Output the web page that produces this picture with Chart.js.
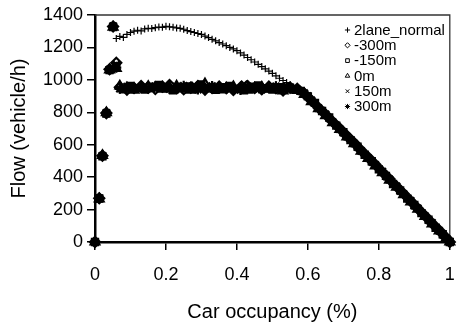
<!DOCTYPE html>
<html>
<head>
<meta charset="utf-8">
<script src="https://cdn.jsdelivr.net/npm/chart.js@4/dist/chart.umd.min.js"></script>
<style>
html,body{margin:0;padding:0;background:#fff;}
#wrap{width:457px;height:324px;}
</style>
</head>
<body>
<div id="wrap"><canvas id="c" width="457" height="324"></canvas></div>
<script>
// ---- Data ----
const seriesNames = ['2lane_normal', '-300m', '-150m', '0m', '150m', '300m'];

const occ2lane = [0, 0.012, 0.021, 0.032, 0.041, 0.051,
  0.06, 0.07, 0.08, 0.09, 0.10, 0.11, 0.12, 0.13, 0.14, 0.15, 0.16, 0.17, 0.18, 0.19,
  0.20, 0.21, 0.22, 0.23, 0.24, 0.25, 0.26, 0.27, 0.28, 0.29, 0.30, 0.31, 0.32, 0.33,
  0.34, 0.35, 0.36, 0.37, 0.38, 0.39, 0.40, 0.41, 0.42, 0.43, 0.44, 0.45, 0.46, 0.47,
  0.48, 0.49, 0.50, 0.51, 0.52, 0.53, 0.54, 0.55, 0.56, 0.57,
  0.59, 0.61, 0.63, 0.65, 0.67, 0.69, 0.71, 0.73, 0.75, 0.77, 0.79, 0.81, 0.83, 0.85,
  0.87, 0.89, 0.91, 0.93, 0.95, 0.97, 0.99, 1.0];
const flow2lane = [0, 268, 530, 793, 1063, 1328,
  1255, 1268, 1262, 1280, 1292, 1300, 1306, 1302, 1314, 1318, 1316, 1322, 1326, 1324,
  1330, 1327, 1325, 1320, 1318, 1312, 1304, 1298, 1292, 1286, 1280, 1270, 1261, 1250,
  1241, 1230, 1221, 1211, 1200, 1191, 1180, 1166, 1153, 1138, 1124, 1110, 1096, 1082,
  1068, 1054, 1040, 1025, 1010, 996, 983, 970, 955, 940,
  916, 874, 829, 785, 744, 699, 654, 609, 565, 519, 475, 430, 386, 340,
  296, 250, 204, 160, 116, 70, 24, 0];

// detectors sampled at odd hundredths (-300m, 0m, 300m)
const occDetectorA = [0, 0.012, 0.021, 0.032, 0.041, 0.051, 0.06,
  0.07, 0.09, 0.11, 0.13, 0.15, 0.17, 0.19, 0.21, 0.23, 0.25, 0.27, 0.29, 0.31,
  0.33, 0.35, 0.37, 0.39, 0.41, 0.43, 0.45, 0.47, 0.49, 0.51, 0.53, 0.55, 0.57,
  0.59, 0.61, 0.63, 0.65, 0.67, 0.69, 0.71, 0.73, 0.75, 0.77, 0.79, 0.81, 0.83,
  0.85, 0.87, 0.89, 0.91, 0.93, 0.95, 0.97, 0.99, 1.0];
// detectors sampled at even hundredths (-150m, 150m)
const occDetectorB = [0, 0.012, 0.021, 0.032, 0.041, 0.051, 0.06,
  0.08, 0.10, 0.12, 0.14, 0.16, 0.18, 0.20, 0.22, 0.24, 0.26, 0.28, 0.30, 0.32,
  0.34, 0.36, 0.38, 0.40, 0.42, 0.44, 0.46, 0.48, 0.50, 0.52, 0.54, 0.56,
  0.58, 0.60, 0.62, 0.64, 0.66, 0.68, 0.70, 0.72, 0.74, 0.76, 0.78, 0.80, 0.82,
  0.84, 0.86, 0.88, 0.90, 0.92, 0.94, 0.96, 0.98, 1.00];

const flowM300 = [0, 270, 532, 795, 1065, 1329, 1105,
  955, 940, 950, 962, 952, 944, 958, 968, 950, 942, 952, 962, 940,
  950, 958, 948, 938, 952, 962, 950, 942, 958, 948, 935, 952, 945,
  915, 872, 828, 786, 742, 700, 655, 612, 566, 522, 478, 432, 388,
  342, 298, 252, 206, 162, 116, 72, 26, 0];
const flowM150 = [0, 268, 528, 792, 1060, 1326, 1085,
  942, 962, 948, 940, 958, 968, 950, 936, 952, 960, 945, 972, 950,
  938, 955, 962, 944, 935, 958, 966, 948, 940, 955, 950, 942,
  932, 898, 858, 808, 768, 718, 678, 628, 588, 538, 498, 448, 408,
  358, 318, 268, 228, 178, 138, 88, 48, 0];
const flow0 = [0, 266, 534, 798, 1062, 1325, 1070,
  962, 950, 936, 948, 960, 952, 942, 955, 962, 946, 936, 950, 976,
  945, 938, 950, 958, 946, 936, 948, 955, 942, 950, 932, 944, 935,
  910, 866, 822, 780, 736, 694, 648, 606, 560, 516, 470, 428, 382,
  338, 292, 248, 202, 158, 112, 68, 24, 0];
const flowP150 = [0, 272, 530, 790, 1058, 1331, 1095,
  958, 940, 955, 965, 944, 950, 962, 945, 935, 955, 968, 948, 942,
  960, 950, 938, 955, 975, 946, 940, 958, 950, 936, 962, 946,
  928, 902, 852, 812, 762, 722, 672, 632, 582, 542, 492, 452, 402,
  362, 312, 272, 222, 182, 132, 92, 42, 0];
const flowP300 = [0, 269, 531, 796, 1064, 1332, 1075,
  945, 958, 944, 952, 946, 960, 954, 944, 958, 964, 950, 940, 950,
  962, 946, 954, 944, 938, 958, 952, 940, 950, 960, 944, 955, 940,
  918, 874, 826, 788, 740, 696, 650, 608, 562, 518, 476, 434, 386,
  344, 296, 254, 208, 160, 118, 70, 22, 0];

const xTickValues = [0, 0.2, 0.4, 0.6, 0.8, 1];
const xTickLabels = ['0', '0.2', '0.4', '0.6', '0.8', '1'];
const yTickValues = [0, 200, 400, 600, 800, 1000, 1200, 1400];
const yTickLabels = ['0', '200', '400', '600', '800', '1000', '1200', '1400'];

// ---- Build chart ----
const FONT = "'Liberation Sans', Arial, sans-serif";
function pts(xs, ys) { return xs.map((x, i) => ({x: x, y: ys[i]})); }

const styles = [
  {pointStyle: 'cross', radius: 3.5, bw: 1.2, fill: 'rgba(0,0,0,0)'},
  {pointStyle: 'rectRot', radius: 5, bw: 2.2, fill: 'rgba(0,0,0,0)'},
  {pointStyle: 'rect', radius: 4.5, bw: 2, fill: '#000'},
  {pointStyle: 'triangle', radius: 5, bw: 2.2, fill: 'rgba(0,0,0,0)'},
  {pointStyle: 'crossRot', radius: 4.5, bw: 2.2, fill: 'rgba(0,0,0,0)'},
  {pointStyle: 'star', radius: 5, bw: 2.2, fill: 'rgba(0,0,0,0)'}
];
const dataSets = [
  pts(occ2lane, flow2lane),
  pts(occDetectorA, flowM300),
  pts(occDetectorB, flowM150),
  pts(occDetectorA, flow0),
  pts(occDetectorB, flowP150),
  pts(occDetectorA, flowP300)
];

const datasets = seriesNames.map((name, i) => ({
  label: name,
  data: dataSets[i],
  showLine: false,
  pointStyle: styles[i].pointStyle,
  pointRadius: styles[i].radius,
  pointBorderWidth: styles[i].bw,
  borderColor: '#000',
  backgroundColor: styles[i].fill,
  pointBackgroundColor: styles[i].fill,
  pointBorderColor: '#000',
  clip: false
}));

const framePlugin = {
  id: 'frame',
  beforeDatasetsDraw(chart) {
    const {ctx, chartArea: a} = chart;
    ctx.save();
    ctx.strokeStyle = '#333';
    ctx.lineWidth = 1.3;
    ctx.beginPath();
    ctx.moveTo(a.left, a.top);
    ctx.lineTo(a.right, a.top);
    ctx.lineTo(a.right, a.bottom);
    ctx.stroke();
    ctx.restore();
  }
};

const legendPlugin = {
  id: 'innerLegend',
  afterDraw(chart) {
    const ctx = chart.ctx;
    const markerX = 347.5, textX = 354, y0 = 30, step = 15.3;
    ctx.save();
    ctx.font = '15px ' + FONT;
    ctx.textBaseline = 'middle';
    ctx.textAlign = 'left';
    chart.data.datasets.forEach((ds, i) => {
      const y = y0 + i * step;
      const opts = {pointStyle: ds.pointStyle, radius: 2.6, rotation: 0, borderWidth: 1};
      ctx.strokeStyle = '#000';
      ctx.fillStyle = 'rgba(0,0,0,0)';
      ctx.lineWidth = 1;
      if (Chart.helpers && Chart.helpers.drawPoint) {
        Chart.helpers.drawPoint(ctx, opts, markerX, y);
      }
      ctx.fillStyle = '#000';
      ctx.fillText(ds.label, textX, y + 0.5);
    });
    ctx.restore();
  }
};

new Chart(document.getElementById('c'), {
  type: 'scatter',
  data: {datasets: datasets},
  plugins: [framePlugin, legendPlugin],
  options: {
    responsive: false,
    devicePixelRatio: 1,
    animation: false,
    layout: {padding: {left: 0, right: 5, top: 15, bottom: 0}},
    plugins: {legend: {display: false}, tooltip: {enabled: false}},
    scales: {
      x: {
        type: 'linear', min: 0, max: 1,
        afterFit(s) { s.height = 82; s.paddingLeft = 0; s.paddingRight = 0; },
        afterBuildTicks(s) { s.ticks = xTickValues.map(v => ({value: v})); },
        ticks: {
          color: '#000', padding: 14, maxRotation: 0,
          font: {family: FONT, size: 18},
          callback: (v) => { const k = xTickValues.indexOf(v); return k >= 0 ? xTickLabels[k] : ''; }
        },
        grid: {drawOnChartArea: false, drawTicks: true, tickLength: 8, color: '#000', lineWidth: 1.5},
        border: {display: true, color: '#000', width: 2.5},
        title: {display: true, text: 'Car occupancy (%)', color: '#000',
          font: {family: FONT, size: 20}, padding: {top: 0, bottom: 0}}
      },
      y: {
        type: 'linear', min: 0, max: 1400,
        afterFit(s) { s.width = 95; s.paddingTop = 0; s.paddingBottom = 0; },
        afterBuildTicks(s) { s.ticks = yTickValues.map(v => ({value: v})); },
        ticks: {
          color: '#000', padding: 4, font: {family: FONT, size: 18},
          callback: (v) => { const k = yTickValues.indexOf(v); return k >= 0 ? yTickLabels[k] : ''; }
        },
        grid: {drawOnChartArea: false, drawTicks: true, tickLength: 8, color: '#000', lineWidth: 1.5},
        border: {display: true, color: '#000', width: 2.5},
        title: {display: true, text: 'Flow (vehicle/h)', color: '#000',
          font: {family: FONT, size: 20}, padding: {top: 7, bottom: 0}}
      }
    }
  }
});
</script>
</body>
</html>
